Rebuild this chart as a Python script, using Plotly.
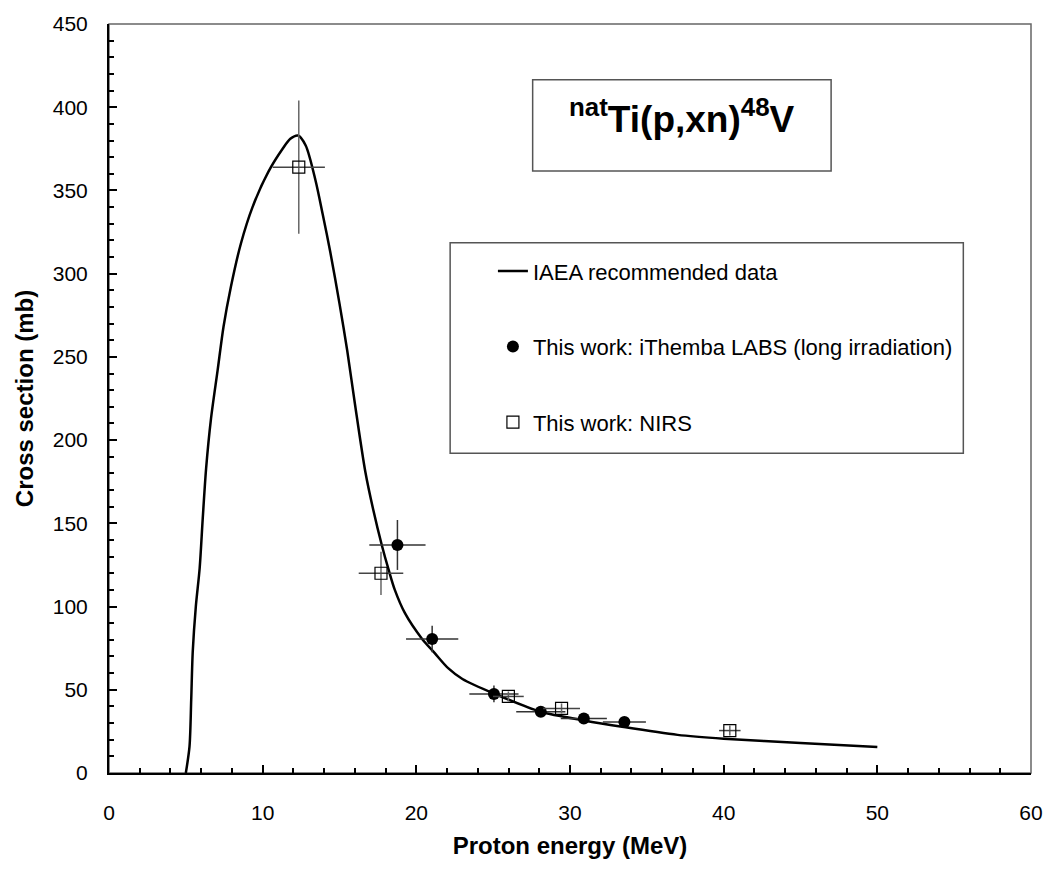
import plotly.graph_objects as go

# IAEA recommended curve
curve_e = [5.0, 5.24, 5.35, 5.45, 5.65, 5.9, 6.1, 6.32, 6.64, 7.07, 7.45, 7.93, 8.58, 9.34,
           10.36, 11.3, 11.8, 12.3, 12.8, 13.44, 13.9, 14.4, 15.0, 15.5, 16.0, 16.68, 17.2,
           17.75, 18.2, 18.6, 19.26, 20.34, 21.2, 22.07, 23.0, 25.09, 28.1, 30.9, 33.5,
           37.0, 40.0, 45.0, 50.0]
curve_xs = [0, 16, 44, 73, 100, 123, 153, 183, 213, 242, 268, 292, 318, 340,
            361, 375, 381, 383, 377, 356, 336, 313, 282, 254, 222, 181, 158,
            137, 122, 110, 96, 81, 72, 63, 56.5, 47.6, 36.8, 31.6, 27.6,
            22.9, 20.6, 18.0, 15.6]

# This work: iThemba LABS (long irradiation)
ith_e = [18.77, 21.03, 25.05, 28.1, 30.9, 33.54]
ith_xs = [137, 80.5, 47.5, 36.8, 32.7, 30.6]
ith_de = [1.83, 1.7, 1.6, 1.6, 1.5, 1.4]
ith_dxs = [15, 8, 5, 3, 3, 3]

# This work: NIRS
nirs_e = [12.35, 17.7, 25.99, 29.45, 40.4]
nirs_xs = [364, 120, 46, 38.8, 25.5]
nirs_de = [1.7, 1.45, 1.0, 1.2, 0.7]
nirs_dxs = [40, 13, 3, 3, 3]

fnt = "Liberation Sans, Arial, sans-serif"

fig = go.Figure()
fig.add_trace(go.Scatter(
    x=curve_e, y=curve_xs, mode="lines", name="IAEA recommended data",
    line=dict(color="black", width=2.5, shape="spline", smoothing=0.8),
    legendgroup="a"))
fig.add_trace(go.Scatter(
    x=ith_e, y=ith_xs, mode="markers", name="This work: iThemba LABS (long irradiation)",
    marker=dict(symbol="circle", size=12, color="black"),
    error_x=dict(type="data", array=ith_de, color="#333", thickness=1.5, width=0),
    error_y=dict(type="data", array=ith_dxs, color="#333", thickness=1.5, width=0),
    legendgroup="b"))
fig.add_trace(go.Scatter(
    x=nirs_e, y=nirs_xs, mode="markers", name="This work: NIRS",
    marker=dict(symbol="square-open", size=12, color="black", line=dict(width=1.2)),
    error_x=dict(type="data", array=nirs_de, color="#444", thickness=1.5, width=0),
    error_y=dict(type="data", array=nirs_dxs, color="#666", thickness=1.5, width=0),
    legendgroup="c"))

# frame (top/right)
fig.add_shape(type="rect", xref="paper", yref="paper", x0=0, x1=1, y0=0, y1=1,
              line=dict(color="#666", width=1.5), layer="below")
# legend box
fig.add_shape(type="rect", xref="paper", yref="paper", x0=0.370, x1=0.9266, y0=0.427, y1=0.708,
              line=dict(color="#555", width=1.5))
# title box
fig.add_shape(type="rect", xref="paper", yref="paper", x0=0.4595, x1=0.7832, y0=0.8037, y1=0.9257,
              line=dict(color="#555", width=1.5))
fig.add_annotation(xref="paper", yref="paper", x=0.6214, y=0.8647, showarrow=False,
                   yanchor="middle", yshift=9,
                   text="<b><sup>nat</sup>Ti(p,xn)<sup>48</sup>V</b>",
                   font=dict(family=fnt, size=37, color="black"))

fig.update_layout(
    width=1055, height=873,
    margin=dict(l=109, r=19, t=19, b=100),
    paper_bgcolor="white", plot_bgcolor="white",
    font=dict(family=fnt, size=21, color="black"),
    showlegend=True,
    legend=dict(x=0.4164, y=0.698, xanchor="left", yanchor="top",
                bgcolor="rgba(0,0,0,0)", borderwidth=0,
                font=dict(family=fnt, size=22), tracegroupgap=44),
    xaxis=dict(range=[0, 60], tick0=0, dtick=10, ticks="inside", ticklen=8,
               tickcolor="black", tickwidth=1.5,
               minor=dict(dtick=2, ticks="inside", ticklen=5, tickcolor="black", tickwidth=1.5),
               showgrid=False, zeroline=False, showline=True, linecolor="black", linewidth=2,
               tickfont=dict(size=21), ticklabelstandoff=20,
               title=dict(text="<b>Proton energy (MeV)</b>", font=dict(size=24), standoff=14)),
    yaxis=dict(range=[0, 450], tick0=0, dtick=50, ticks="inside", ticklen=8,
               tickcolor="black", tickwidth=1.5,
               minor=dict(dtick=10, ticks="inside", ticklen=5, tickcolor="black", tickwidth=1.5),
               showgrid=False, zeroline=False, showline=True, linecolor="black", linewidth=2,
               tickfont=dict(size=21), ticklabelstandoff=15,
               title=dict(text="<b>Cross section (mb)</b>", font=dict(size=24), standoff=12)),
)

fig.write_html("out.html")
